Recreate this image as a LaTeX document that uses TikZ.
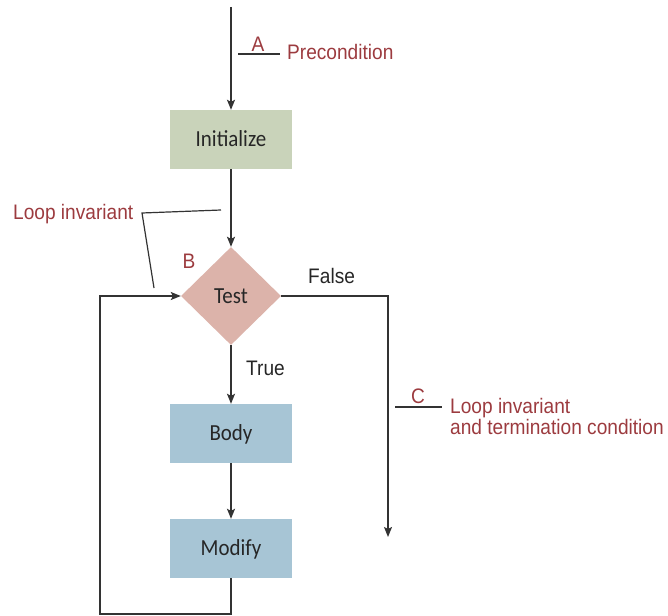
\documentclass[tikz,border=0pt]{standalone}
\usepackage{fontspec}
\setmainfont{Carlito}
\newfontfamily\boxfamily[FakeStretch=0.91]{Carlito}
\newfontfamily\redfamily[FakeStretch=0.91]{Liberation Sans}
\usetikzlibrary{arrows.meta,shapes.geometric}
\definecolor{initc}{HTML}{C9D3BA}
\definecolor{diac}{HTML}{DCB3AA}
\definecolor{bluec}{HTML}{A7C5D5}
\definecolor{redc}{HTML}{9C3B3F}
\definecolor{linec}{HTML}{333333}
\newcommand{\boxfont}{\boxfamily\fontsize{23}{25}\selectfont}
\newcommand{\lblfont}{\redfamily\fontsize{21}{22}\selectfont}
\begin{document}
\begin{tikzpicture}[x=1pt,y=-1pt,
  flowbox/.style={draw=none, fill=#1, minimum width=122pt, minimum height=59pt,
    inner sep=0pt, font=\boxfont, text=black!85, text height=14.5pt, text depth=0pt},
  dia/.style={diamond, draw=none, fill=diac, minimum width=100pt, minimum height=98pt,
    aspect=1.02, inner sep=0pt, font=\boxfont, text=black!85, text height=14.5pt, text depth=0pt},
  conn/.style={draw=linec, line width=1.3pt, -{Stealth[length=10pt,width=8pt,inset=2pt]}},
  annline/.style={draw=linec, line width=1.2pt},
  redlbl/.style={font=\lblfont, text=redc, inner sep=0pt},
  blklbl/.style={font=\lblfont, text=black!85, inner sep=0pt}]
\useasboundingbox (0,0) rectangle (668,615);
% main nodes
\node[flowbox=initc] (init) at (231,139.5) {Initialize};
\node[dia] (test) at (231,296) {Test};
\node[flowbox=bluec] (body) at (231,433.5) {Body};
\node[flowbox=bluec] (modify) at (231,548.5) {Modify};
% helper coordinates
\coordinate (start) at (231,7);
\coordinate (fturn) at (388,296);
\coordinate (fend) at (388,537);
\coordinate (lb) at (231,614);
\coordinate (lbl) at (100,614);
\coordinate (ltl) at (100,296);
% connectors
\draw[conn] (start) -- (init.north);
\draw[conn] (init.south) -- (test.north);
\draw[conn] (test.east) -- (fturn) -- (fend);
\draw[conn] (test.south) -- (body.north);
\draw[conn] (body.south) -- (modify.north);
\draw[conn] (modify.south) -- (lb) -- (lbl) -- (ltl) -- (test.west);
% branch labels
\node[blklbl, anchor=base west] (false) at (308,283) {False};
\node[blklbl, anchor=base west] (true) at (246,375) {True};
% annotation A
\node[redlbl, anchor=base] (la) at (258,52) {A};
\node[redlbl, anchor=base west] (pre) at (287,60) {Precondition};
\coordinate (a1) at (238,54);
\coordinate (a2) at (280,54);
\draw[annline] (a1) -- (a2);
% annotation loop invariant
\node[redlbl, anchor=base west] (li) at (13,219) {Loop invariant};
\coordinate (l1) at (221,210);
\coordinate (l2) at (142,213);
\coordinate (l3) at (154,288);
\draw[annline] (l1) -- (l2) -- (l3);
% B
\node[redlbl, anchor=base] (lb2) at (189,268) {B};
% annotation C
\node[redlbl, anchor=base] (lc) at (418,403) {C};
\coordinate (c1) at (395,407);
\coordinate (c2) at (442,407);
\draw[annline] (c1) -- (c2);
\node[redlbl, anchor=base west] (ct1) at (450,413) {Loop invariant};
\node[redlbl, anchor=base west] (ct2) at (450,434) {and termination condition};
\end{tikzpicture}
\end{document}
